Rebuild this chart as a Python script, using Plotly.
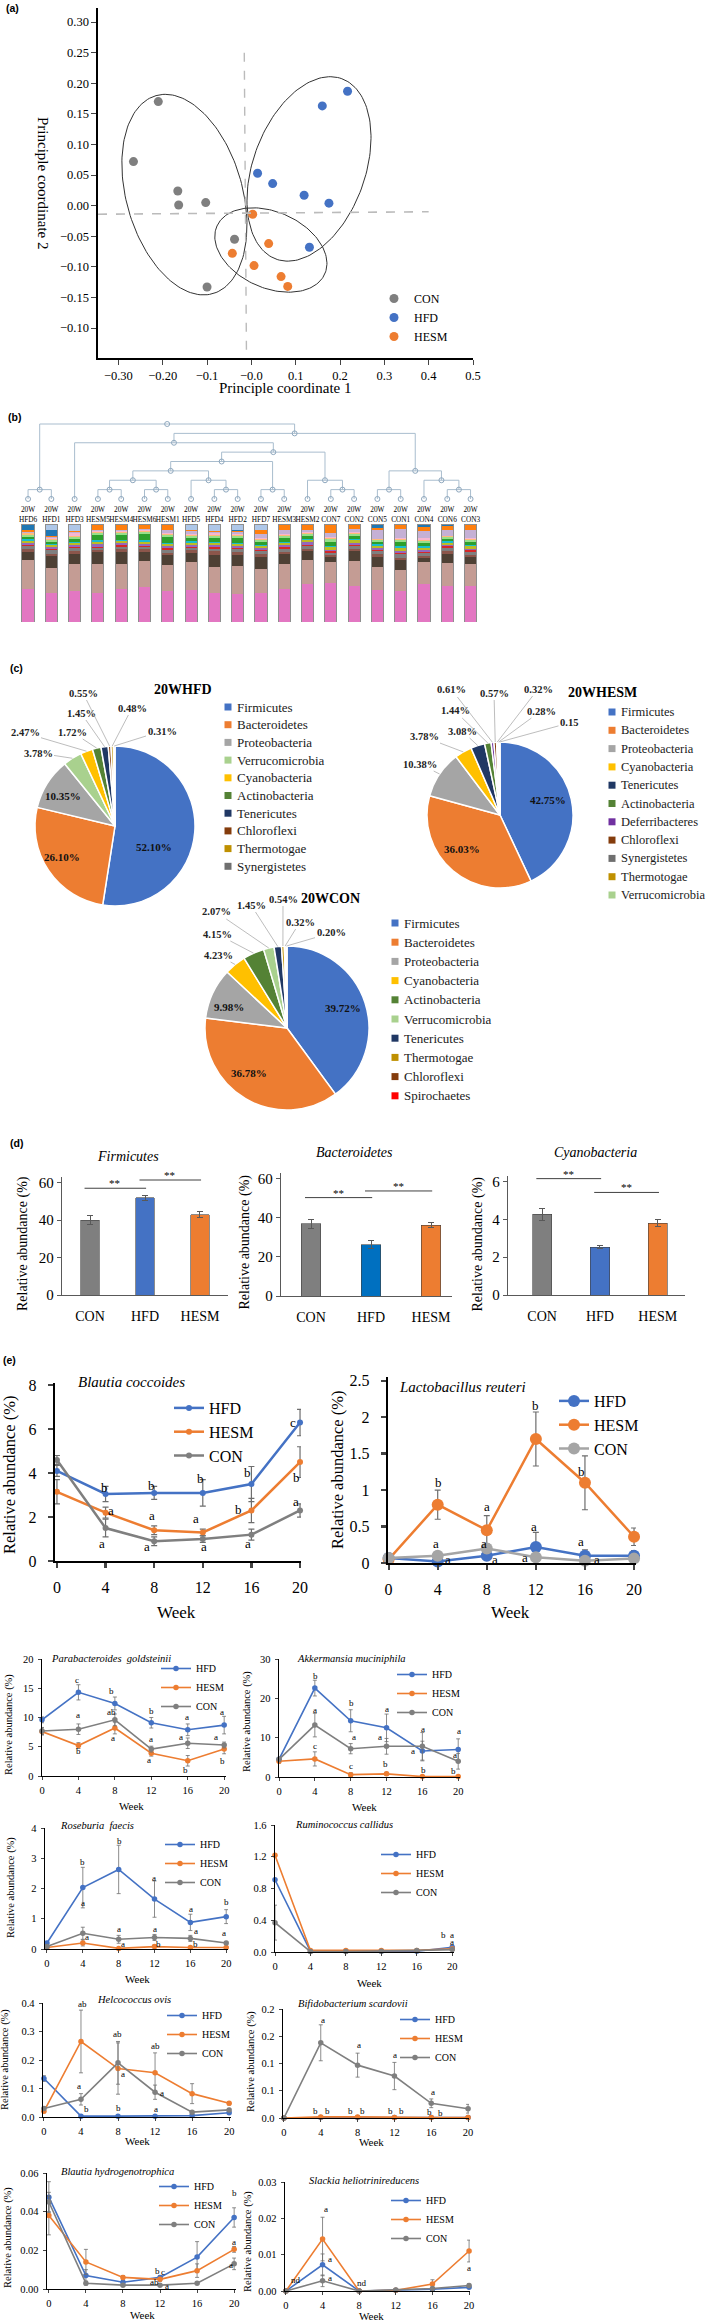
import numpy as np
import plotly.graph_objects as go

W, H = 709, 2321
SERIF = "Liberation Serif"
SANS = "Liberation Sans"
C_CON, C_HFD, C_HESM = "#7F7F7F", "#4472C4", "#ED7D31"

# ---------------- (a) PCoA scores ----------------
con_pc1 = [-0.210, -0.266, -0.166, -0.164, -0.103, -0.038, -0.100]
con_pc2 = [0.170, 0.072, 0.024, 0.001, 0.005, -0.055, -0.133]
hfd_pc1 = [0.217, 0.160, 0.014, 0.048, 0.119, 0.175, 0.131]
hfd_pc2 = [0.187, 0.163, 0.053, 0.036, 0.017, 0.004, -0.068]
hesm_pc1 = [0.003, 0.039, -0.043, 0.006, 0.067, 0.082]
hesm_pc2 = [-0.014, -0.062, -0.078, -0.098, -0.116, -0.132]
pc_xticks = [-0.3, -0.2, -0.1, 0.0, 0.1, 0.2, 0.3, 0.4, 0.5]
pc_xtext = ["\u22120.30", "\u22120.20", "\u22120.1", "\u22120.0", "0.1", "0.2", "0.3", "0.4", "0.5"]
pc_yticks = [0.30, 0.25, 0.20, 0.15, 0.10, 0.05, 0.00, -0.05, -0.10, -0.15, -0.20]
pc_ytext = ["0.30", "0.25", "0.20", "0.15", "0.10", "0.05", "0.00", "\u22120.05", "\u22120.10",
            "\u22120.15", "\u22120.10"]
ell_center_x = [-0.151, 0.130, 0.044]
ell_center_y = [0.018, 0.060, -0.0725]

# ---------------- (b) clustering + genus composition ----------------
sample_names = ["HFD6", "HFD1", "HFD3", "HESM5", "HESM4", "HESM6", "HESM1", "HFD5", "HFD4", "HFD2",
                "HFD7", "HESM3", "HESM2", "CON7", "CON2", "CON5", "CON1", "CON4", "CON6", "CON3"]
merge_pairs = [(0, 1), (3, 4), (5, 6), (8, 9), (10, 11), (13, 14), (15, 16), (18, 19),
               (21, 22), (7, 23), (12, 25), (17, 27), (28, 29), (26, 31), (32, 24),
               (34, 30), (2, 35), (36, 33), (20, 37)]
merge_levels = [1, 1, 1, 1, 1, 1, 1, 1, 2, 2, 2, 2, 3, 3, 4, 5, 6, 7, 8]
# stacked from bottom to top
taxon_01 = [33.6, 29.1, 31.2, 30.1, 33.2, 34.9, 31.2, 32.2, 30.1, 28.1, 30.1, 33.6, 38.0, 39.0, 36.3, 32.2, 32.2, 38.4, 36.3, 36.3]
taxon_02 = [29.1, 25.7, 27.4, 29.5, 26.4, 26.4, 26.0, 28.4, 25.7, 28.4, 24.3, 25.7, 24.7, 21.9, 25.3, 24.3, 20.9, 23.3, 24.0, 22.6]
taxon_03 = [7.3, 12.2, 10.4, 11.4, 11.4, 9.7, 10.8, 9.4, 12.7, 11.5, 11.6, 9.7, 9.3, 5.0, 10.4, 10.0, 10.9, 3.4, 9.2, 7.1]
taxon_04 = [3.0, 2.5, 3.0, 2.0, 3.0, 2.5, 2.0, 3.0, 3.5, 2.5, 3.0, 2.5, 2.0, 1.5, 2.0, 2.5, 2.0, 2.0, 3.0, 2.5]
taxon_05 = [3.0, 3.5, 2.5, 3.0, 3.0, 2.0, 3.0, 2.5, 3.0, 3.0, 3.5, 3.0, 3.0, 2.5, 3.0, 3.0, 3.5, 3.0, 3.0, 3.0]
taxon_06 = [1.5, 1.0, 1.5, 1.0, 2.0, 1.5, 1.5, 1.0, 2.0, 1.5, 1.0, 1.5, 1.0, 1.5, 1.5, 1.0, 1.5, 1.5, 2.0, 1.5]
taxon_07 = [2.0, 3.0, 2.0, 3.0, 2.0, 2.0, 2.5, 2.0, 1.5, 2.0, 2.0, 2.0, 2.5, 1.5, 2.0, 2.5, 2.0, 2.0, 1.5, 2.0]
taxon_08 = [2.0, 1.5, 2.0, 1.5, 1.5, 2.0, 1.5, 2.0, 2.0, 1.5, 2.0, 2.0, 2.5, 3.0, 2.5, 2.0, 3.0, 2.5, 2.0, 2.5]
taxon_09 = [1.5, 1.5, 1.0, 2.0, 1.5, 1.5, 1.5, 1.5, 1.0, 1.5, 1.5, 1.5, 1.0, 1.0, 1.5, 2.0, 1.5, 1.5, 1.5, 1.5]
taxon_10 = [2.0, 2.0, 3.0, 5.0, 5.0, 6.0, 6.0, 3.0, 4.0, 5.0, 3.0, 4.0, 3.0, 4.0, 3.0, 2.0, 5.0, 3.0, 2.0, 3.0]
taxon_11 = [2.0, 2.0, 2.0, 2.5, 2.0, 2.5, 2.0, 2.0, 2.0, 2.0, 2.0, 2.0, 2.0, 2.5, 2.0, 2.0, 2.0, 2.0, 2.0, 2.0]
taxon_12 = [2.0, 1.0, 1.0, 1.0, 1.0, 1.0, 1.0, 1.5, 1.0, 1.0, 1.0, 1.0, 1.0, 1.5, 1.0, 1.0, 1.0, 1.5, 1.0, 1.0]
taxon_13 = [0.5, 0.5, 3.0, 0.5, 0.5, 0.5, 0.5, 0.5, 2.0, 0.5, 0.5, 0.5, 0.5, 0.5, 0.5, 0.5, 0.5, 2.0, 0.5, 0.5]
taxon_14 = [1.0, 1.0, 1.0, 1.0, 1.0, 1.0, 3.0, 3.0, 1.0, 2.0, 4.0, 4.0, 2.0, 4.0, 3.0, 9.0, 9.0, 7.0, 6.0, 8.0]
taxon_15 = [1.5, 1.5, 0.5, 5.0, 5.0, 4.0, 5.0, 1.0, 1.0, 1.0, 4.0, 5.0, 5.0, 8.0, 4.0, 2.0, 4.0, 4.0, 4.0, 5.0]
taxon_16 = [6.0, 6.0, 0.5, 0.5, 0.5, 0.5, 0.5, 0.5, 0.5, 1.5, 0.5, 0.5, 0.5, 0.5, 0.5, 3.0, 0.5, 2.0, 1.0, 0.5]
taxon_17 = [0.5, 6.0, 7.0, 1.0, 1.0, 1.0, 1.0, 6.0, 7.0, 6.0, 6.0, 1.0, 1.0, 1.0, 1.0, 1.0, 1.0, 1.0, 1.0, 1.0]

# ---------------- (c) phylum composition at week 20 ----------------
hfd_phyla = ["Firmicutes", "Bacteroidetes", "Proteobacteria", "Verrucomicrobia", "Cyanobacteria",
             "Actinobacteria", "Tenericutes", "Chloroflexi", "Thermotogae", "Synergistetes"]
hfd_share = [52.10, 26.10, 10.35, 3.78, 2.47, 1.72, 1.45, 0.55, 0.48, 0.31]
hesm_phyla = ["Firmicutes", "Bacteroidetes", "Proteobacteria", "Cyanobacteria", "Tenericutes",
              "Actinobacteria", "Deferribacteres", "Chloroflexi", "Synergistetes", "Thermotogae",
              "Verrucomicrobia"]
hesm_share = [42.75, 36.03, 10.38, 3.78, 3.08, 1.44, 0.61, 0.57, 0.32, 0.28, 0.15]
con_phyla = ["Firmicutes", "Bacteroidetes", "Proteobacteria", "Cyanobacteria", "Actinobacteria",
             "Verrucomicrobia", "Tenericutes", "Thermotogae", "Chloroflexi", "Spirochaetes"]
con_share = [39.72, 36.78, 9.98, 4.23, 4.15, 2.07, 1.45, 0.54, 0.32, 0.20]
hfd_pie_text = [f"{v:.2f}%" for v in hfd_share]
hesm_pie_text = [f"{v:.2f}%" for v in hesm_share[:-1]] + ["0.15"]
con_pie_text = [f"{v:.2f}%" for v in con_share]

# ---------------- (d) phylum bars ----------------
groups = ["CON", "HFD", "HESM"]
firm_mean = [40.0, 51.9, 42.9]
firm_err = [2.2, 1.2, 1.6]
bact_mean = [36.9, 26.3, 36.2]
bact_err = [2.4, 1.9, 1.2]
cyan_mean = [4.27, 2.53, 3.81]
cyan_err = [0.33, 0.09, 0.20]
sig_pairs = [(0, 1), (1, 2)]
firm_sig_y = [57.0, 61.4]
bact_sig_y = [50.4, 53.8]
cyan_sig_y = [6.16, 5.43]

# ---------------- (e) species over time ----------------
weeks = [0, 4, 8, 12, 16, 20]
bc_hfd = [4.1, 3.05, 3.1, 3.1, 3.5, 6.3];        bc_hfd_err = [0.25, 0.35, 0.3, 0.6, 0.8, 0.6]
bc_hesm = [3.15, 2.2, 1.4, 1.3, 2.3, 4.5];       bc_hesm_err = [0.55, 0.25, 0.2, 0.15, 0.55, 0.7]
bc_con = [4.6, 1.5, 0.9, 1.0, 1.2, 2.3];         bc_con_err = [0.2, 0.4, 0.2, 0.15, 0.25, 0.3]
lr_hfd = [0.07, 0.02, 0.10, 0.22, 0.10, 0.10];   lr_hfd_err = [0.02, 0.02, 0.04, 0.2, 0.08, 0.07]
lr_hesm = [0.05, 0.80, 0.45, 1.70, 1.10, 0.36];  lr_hesm_err = [0.02, 0.2, 0.2, 0.37, 0.37, 0.12]
lr_con = [0.07, 0.10, 0.20, 0.08, 0.03, 0.06];   lr_con_err = [0.02, 0.05, 0.06, 0.04, 0.02, 0.03]
pg_hfd = [9.6, 14.3, 12.4, 9.1, 7.9, 8.7];       pg_hfd_err = [0.5, 1.3, 1.1, 0.9, 1.0, 1.5]
pg_hesm = [7.6, 5.2, 8.2, 3.9, 2.6, 4.6];        pg_hesm_err = [0.6, 0.5, 1.0, 0.5, 0.9, 0.8]
pg_con = [7.7, 8.0, 9.6, 4.6, 5.6, 5.3];         pg_con_err = [0.6, 0.9, 1.0, 0.5, 0.9, 0.5]
am_hfd = [4.5, 22.6, 14.3, 12.5, 6.6, 7.0];      am_hfd_err = [0.5, 2.0, 2.8, 3.5, 2.5, 2.7]
am_hesm = [4.0, 4.6, 0.6, 0.8, 0.1, 0.1];        am_hesm_err = [0.5, 1.8, 0.5, 0.4, 0.1, 0.1]
am_con = [4.5, 13.2, 7.2, 7.8, 7.8, 4.0];        am_con_err = [0.6, 3.0, 1.3, 2.0, 3.5, 2.0]
rf_hfd = [0.2, 2.03, 2.63, 1.65, 0.88, 1.07];    rf_hfd_err = [0.05, 0.67, 0.8, 0.6, 0.27, 0.23]
rf_hesm = [0.05, 0.2, 0.02, 0.08, 0.05, 0.05];   rf_hesm_err = [0.02, 0.1, 0.02, 0.05, 0.02, 0.02]
rf_con = [0.08, 0.52, 0.32, 0.38, 0.35, 0.2];    rf_con_err = [0.03, 0.2, 0.13, 0.1, 0.1, 0.05]
rc_hfd = [0.91, 0.01, 0.01, 0.01, 0.01, 0.06];   rc_hfd_err = [0.0, 0.005, 0.005, 0.005, 0.005, 0.02]
rc_hesm = [1.22, 0.02, 0.02, 0.02, 0.02, 0.04];  rc_hesm_err = [0.0, 0.005, 0.005, 0.005, 0.005, 0.01]
rc_con = [0.37, 0.005, 0.005, 0.01, 0.02, 0.03]; rc_con_err = [0.22, 0.003, 0.003, 0.005, 0.005, 0.01]
ho_hfd = [0.135, 0.003, 0.003, 0.003, 0.005, 0.015]; ho_hfd_err = [0.01, 0.002, 0.002, 0.002, 0.002, 0.004]
ho_hesm = [0.02, 0.265, 0.17, 0.155, 0.082, 0.048];  ho_hesm_err = [0.005, 0.11, 0.09, 0.07, 0.035, 0.006]
ho_con = [0.03, 0.062, 0.19, 0.087, 0.017, 0.025];   ho_con_err = [0.005, 0.02, 0.075, 0.025, 0.005, 0.005]
bs_hfd = [0.0, 0.001, 0.001, 0.001, 0.001, 0.001];   bs_hfd_err = [0, 0, 0, 0, 0, 0]
bs_hesm = [0.0, 0.002, 0.002, 0.001, 0.001, 0.001];  bs_hesm_err = [0, 0, 0, 0, 0, 0]
bs_con = [0.0, 0.138, 0.097, 0.077, 0.027, 0.017];   bs_con_err = [0.0, 0.033, 0.022, 0.025, 0.008, 0.008]
bh_hfd = [0.0475, 0.007, 0.0035, 0.006, 0.0165, 0.037];  bh_hfd_err = [0.008, 0.003, 0.001, 0.001, 0.008, 0.005]
bh_hesm = [0.038, 0.014, 0.006, 0.005, 0.0095, 0.0205];  bh_hesm_err = [0.01, 0.0065, 0.001, 0.001, 0.0035, 0.0015]
bh_con = [0.045, 0.003, 0.002, 0.002, 0.003, 0.013];     bh_con_err = [0.005, 0.001, 0.0005, 0.0005, 0.0005, 0.003]
sh_hfd = [0.0, 0.0072, 0.0, 0.0002, 0.0005, 0.001];  sh_hfd_err = [0, 0.003, 0, 0.0001, 0.0002, 0.0003]
sh_hesm = [0.0, 0.0143, 0.0, 0.0002, 0.0019, 0.011]; sh_hesm_err = [0, 0.006, 0, 0.0002, 0.0012, 0.003]
sh_con = [0.0, 0.0028, 0.0, 0.0003, 0.0007, 0.0015]; sh_con_err = [0, 0.0016, 0, 0.0002, 0.0003, 0.0005]

# significance letters: (week position, height, letter)
bc_letters = [(3.95, 3.36, "b"), (4.45, 2.3, "a"), (3.7, 0.8, "a"), (7.8, 3.45, "b"), (7.8, 2.05, "a"),
              (7.4, 0.64, "a"), (11.8, 3.77, "b"), (11.4, 1.95, "a"), (12.1, 0.68, "a"), (15.7, 4.05, "b"),
              (14.9, 2.36, "b"), (15.7, 0.8, "a"), (19.4, 6.3, "c"), (19.7, 3.8, "b"), (19.7, 2.7, "a")]
lr_letters = [(4.05, 1.1, "b"), (3.9, 0.27, "a"), (4.8, 0.05, "a"), (8.0, 0.77, "a"), (7.8, 0.27, "a"),
              (8.7, 0.05, "a"), (12.0, 2.16, "b"), (11.85, 0.5, "a"), (11.1, 0.07, "a"), (15.7, 1.26, "b"),
              (15.7, 0.3, "a"), (17.0, 0.05, "a")]
pg_letters = [(3.8, 16.4, "c"), (4.0, 10.4, "a"), (4.0, 4.3, "b"), (7.6, 14.6, "b"), (7.6, 10.9, "ab"),
              (7.8, 6.5, "a"), (12.0, 11.1, "b"), (12.0, 6.3, "a"), (11.7, 2.7, "a"), (15.9, 10.1, "a"),
              (15.3, 6.7, "a"), (15.8, 1.0, "b"), (19.8, 10.9, "a"), (19.1, 6.7, "a"), (19.8, 2.6, "b")]
am_letters = [(4.05, 25.8, "b"), (4.05, 17.0, "a"), (4.05, 7.9, "c"), (8.1, 18.9, "b"), (8.4, 10.2, "a"),
              (8.0, 2.8, "c"), (12.05, 17.3, "a"), (11.3, 10.2, "a"), (11.9, 3.3, "b"), (16.1, 12.2, "a"),
              (14.9, 6.6, "a"), (16.1, 1.8, "b"), (20.1, 11.8, "a"), (19.6, 5.6, "a"), (19.5, 1.4, "b")]
rf_letters = [(4.0, 2.87, "b"), (4.0, 1.51, "a"), (4.45, 0.39, "a"), (8.04, 3.58, "b"), (8.04, 0.66, "a"),
              (8.5, 0.17, "a"), (11.9, 2.34, "a"), (12.0, 0.66, "a"), (12.5, 0.17, "b"), (16.1, 1.32, "a"),
              (16.6, 0.6, "a"), (16.6, 0.17, "b"), (20.0, 1.56, "b"), (19.7, 0.54, "a"), (20.6, 0.15, "a")]
rc_letters = [(19.0, 0.22, "b"), (19.95, 0.22, "a"), (19.95, 0.12, "a")]
ho_letters = [(4.15, 0.395, "ab"), (3.8, 0.109, "a"), (4.6, 0.027, "b"), (7.96, 0.29, "ab"),
              (8.55, 0.15, "a"), (8.1, 0.033, "b"), (12.0, 0.25, "ab"), (12.7, 0.083, "a"), (12.1, 0.028, "a")]
bs_letters = [(4.2, 0.179, "a"), (8.2, 0.134, "a"), (12.1, 0.116, "a"), (16.2, 0.047, "a"),
              (3.4, 0.013, "b"), (4.7, 0.013, "b"), (7.2, 0.013, "b"), (8.5, 0.013, "b"),
              (11.6, 0.013, "b"), (12.8, 0.013, "b"), (15.8, 0.011, "b"), (17.0, 0.009, "b")]
bh_letters = [(11.75, 0.0095, "b"), (12.3, 0.0088, "c"), (11.4, 0.0035, "ab"), (12.7, 0.0018, "a"),
              (20.0, 0.0495, "b"), (20.0, 0.0245, "a"), (19.65, 0.0124, "a")]
sh_letters = [(1.1, 0.003, "nd"), (4.4, 0.0225, "a"), (4.8, 0.0088, "a"), (4.8, 0.0035, "a"),
              (8.35, 0.0023, "nd"), (20.2, 0.0159, "b"), (20.0, 0.0062, "a")]

# ================= figure assembly =================
layout = dict(width=W, height=H, margin=dict(l=0, r=0, t=0, b=0, pad=0),
              paper_bgcolor="white", plot_bgcolor="rgba(0,0,0,0)",
              font=dict(family=SERIF, color="black", size=11),
              barmode="stack", hovermode=False)
annotations, shapes, traces = [], [], []
n_axes = [0]


def tfont(size):
    return dict(family=SERIF, size=size, color="black")


def add_axes(xpx, ypx, xr, yr, xkw=None, ykw=None):
    n_axes[0] += 1
    s = "" if n_axes[0] == 1 else str(n_axes[0])
    common = dict(showgrid=False, zeroline=False, fixedrange=True, automargin=False)
    xa = dict(common, domain=[xpx[0] / W, xpx[1] / W], range=xr, anchor="y" + s)
    ya = dict(common, domain=[1 - ypx[1] / H, 1 - ypx[0] / H], range=yr, anchor="x" + s)
    xa.update(xkw or {})
    ya.update(ykw or {})
    layout["xaxis" + s] = xa
    layout["yaxis" + s] = ya
    return "x" + s, "y" + s


def text(x, y, s, size, family=SERIF, color="black", **kw):
    a = dict(x=x / W, y=1 - y / H, xref="paper", yref="paper", text=s, showarrow=False,
             xanchor="center", yanchor="middle", font=dict(family=family, size=size, color=color))
    a.update(kw)
    annotations.append(a)


def add_legend(name, left, top, size):
    layout[name] = dict(x=left / W, y=1 - top / H, xanchor="left", yanchor="top",
                        bgcolor="rgba(0,0,0,0)", borderwidth=0, itemwidth=30, traceorder="normal",
                        font=dict(family=SERIF, size=size, color="black"), tracegroupgap=0)


# ---- panel labels ----
for lab, x, y in [("(a)", 12, 8), ("(b)", 14, 417), ("(c)", 16, 668), ("(d)", 16, 1143), ("(e)", 9, 1360)]:
    text(x, y, "<b>" + lab + "</b>", 10.5, family=SANS)

# ---- (a) ----
a_xpx, a_ypx = (98, 473), (8, 358)
a_xr, a_yr = [-0.346, 0.5], [-0.249, 0.323]
axa = add_axes(a_xpx, a_ypx, a_xr, a_yr,
               dict(showline=True, linecolor="black", linewidth=1.6, ticks="outside", ticklen=5,
                    tickvals=pc_xticks, ticktext=pc_xtext, tickfont=tfont(12.5)),
               dict(showline=True, linecolor="black", linewidth=1.6, ticks="outside", ticklen=5,
                    tickvals=pc_yticks, ticktext=pc_ytext, tickfont=tfont(12.5)))
sx = (a_xr[1] - a_xr[0]) / (a_xpx[1] - a_xpx[0])
sy = (a_yr[1] - a_yr[0]) / (a_ypx[1] - a_ypx[0])
ell_geom = [(103, 58, -16), (96, 56, 20), (59, 38, -66)]  # semi-axes px, tilt from vertical
t = np.linspace(0, 2 * np.pi, 160)
for cx, cy, (ea, eb, tilt) in zip(ell_center_x, ell_center_y, ell_geom):
    al = np.radians(tilt)
    dx = ea * np.cos(t) * np.sin(al) + eb * np.sin(t) * np.cos(al)
    dy = ea * np.cos(t) * np.cos(al) - eb * np.sin(t) * np.sin(al)
    traces.append(go.Scatter(x=cx + dx * sx, y=cy + dy * sy, mode="lines", showlegend=False,
                             line=dict(color="#333333", width=1), xaxis=axa[0], yaxis=axa[1]))
shapes.append(dict(type="line", xref=axa[0], yref=axa[1], x0=-0.016, y0=0.25, x1=-0.011, y1=a_yr[0],
                   line=dict(color="#BBBBBB", width=1.4, dash="dash")))
shapes.append(dict(type="line", xref=axa[0], yref=axa[1], x0=a_xr[0], y0=-0.014, x1=0.4, y1=-0.010,
                   line=dict(color="#BBBBBB", width=1.6, dash="dash")))
for nm, xs, ys, col in [("CON", con_pc1, con_pc2, C_CON), ("HFD", hfd_pc1, hfd_pc2, C_HFD),
                        ("HESM", hesm_pc1, hesm_pc2, C_HESM)]:
    traces.append(go.Scatter(x=xs, y=ys, mode="markers", name=nm, legend="legend",
                             marker=dict(size=9, color=col), xaxis=axa[0], yaxis=axa[1]))
add_legend("legend", 374, 284, 12)
text(285, 388, "Principle coordinate 1", 15)
text(43, 183, "Principle coordinate 2", 15, textangle=90)

# ---- (b) dendrogram ----
b_xpx = (16.4, 482.2)
axd = add_axes(b_xpx, (421.2, 501.8), [-0.5, 19.5], [-0.3, 8.3],
               dict(visible=False), dict(visible=False))
node_x = {i: float(i) for i in range(len(sample_names))}
node_h = {i: 0.0 for i in range(len(sample_names))}
lx, ly = [], []
nid = len(sample_names)
for (l, r), h in zip(merge_pairs, merge_levels):
    lx += [node_x[l], node_x[l], node_x[r], node_x[r], None]
    ly += [node_h[l], h, h, node_h[r], None]
    node_x[nid] = (node_x[l] + node_x[r]) / 2
    node_h[nid] = h
    nid += 1
traces.append(go.Scatter(x=lx, y=ly, mode="lines", line=dict(color="#A9BDCE", width=1),
                         showlegend=False, xaxis=axd[0], yaxis=axd[1]))
traces.append(go.Scatter(x=list(node_x.values()), y=list(node_h.values()), mode="markers",
                         marker=dict(symbol="circle-open", size=5, color="#8FA8BE", line=dict(width=1)),
                         showlegend=False, xaxis=axd[0], yaxis=axd[1], cliponaxis=False))

# ---- (b) stacked bars ----
axb = add_axes(b_xpx, (524, 622), [-0.5, 19.5], [0, 100],
               dict(side="top", tickvals=list(range(20)),
                    ticktext=["20W<br>" + s for s in sample_names], tickangle=0,
                    tickfont=tfont(7.3), ticks=""),
               dict(visible=False))
taxa = [taxon_01, taxon_02, taxon_03, taxon_04, taxon_05, taxon_06, taxon_07, taxon_08, taxon_09,
        taxon_10, taxon_11, taxon_12, taxon_13, taxon_14, taxon_15, taxon_16, taxon_17]
taxa_colors = ["#E377C2", "#C49C94", "#4E4034", "#8C564B", "#7F7F7F", "#D62728", "#9467BD", "#BCBD22",
               "#17BECF", "#2CA02C", "#98DF8A", "#FFBB78", "#F7B6D2", "#C5B0D5", "#FF7F0E", "#1F77B4",
               "#AEC7E8"]
totals = np.sum(np.array(taxa), axis=0)
for vals, col in zip(taxa, taxa_colors):
    traces.append(go.Bar(x=list(range(20)), y=np.array(vals) / totals * 100, width=0.52,
                         marker=dict(color=col, line=dict(width=0)), showlegend=False,
                         xaxis=axb[0], yaxis=axb[1]))
n_axes[0] += 1
ov = str(n_axes[0])
layout["yaxis" + ov] = dict(overlaying=axb[1], anchor=axb[0], range=[0, 100], visible=False,
                            domain=layout["yaxis" + axb[1][1:]]["domain"], fixedrange=True)
traces.append(go.Bar(x=list(range(20)), y=totals / totals * 100, width=0.52,
                     marker=dict(color="rgba(0,0,0,0)", line=dict(width=1, color="#8E8E8E")),
                     showlegend=False, xaxis=axb[0], yaxis="y" + ov))

# ---- (c) pies ----
phylum_colors = {"Firmicutes": "#4472C4", "Bacteroidetes": "#ED7D31", "Proteobacteria": "#A5A5A5",
                 "Cyanobacteria": "#FFC000", "Verrucomicrobia": "#A9D18E", "Actinobacteria": "#548235",
                 "Tenericutes": "#203864", "Chloroflexi": "#843C0C", "Thermotogae": "#BF9000",
                 "Synergistetes": "#6F6F6F", "Deferribacteres": "#7030A0", "Spirochaetes": "#FF0000"}
pies = [
    dict(labels=hfd_phyla, vals=hfd_share, txt=hfd_pie_text, c=(115, 826), r=80,
         title="20WHFD", tpos=(183, 689), leg=(228, 707, 17.7, 13),
         inner={0: (154, 847), 1: (62, 857), 2: (63, 796)},
         out={3: (38, 753), 4: (25, 733), 5: (72, 732), 6: (81, 713), 7: (83, 693), 8: (132, 708),
              9: (162, 731)}),
    dict(labels=hesm_phyla, vals=hesm_share, txt=hesm_pie_text, c=(500, 815), r=73,
         title="20WHESM", tpos=(602, 692), leg=(612, 712, 18.3, 12.5),
         inner={0: (548, 800), 1: (462, 849)},
         out={2: (420, 764), 3: (424, 737), 4: (462, 731), 5: (455, 711), 6: (452, 690), 7: (494, 693),
              8: (538, 689), 9: (541, 711), 10: (569, 723)}),
    dict(labels=con_phyla, vals=con_share, txt=con_pie_text, c=(287, 1028), r=82,
         title="20WCON", tpos=(330, 898), leg=(395, 923, 19.2, 13),
         inner={0: (343, 1008), 1: (249, 1073), 2: (229, 1007)},
         out={3: (218, 955), 4: (217, 934), 5: (216, 912), 6: (251, 905), 7: (283, 899), 8: (300, 922),
              9: (331, 933)}),
]
for p in pies:
    (cx, cy), r = p["c"], p["r"]
    traces.append(go.Pie(labels=p["labels"], values=p["vals"], textinfo="none",
                         sort=False, direction="clockwise", rotation=0,
                         marker=dict(colors=[phylum_colors[l] for l in p["labels"]],
                                     line=dict(color="white", width=1.5)),
                         domain=dict(x=[(cx - r) / W, (cx + r) / W], y=[1 - (cy + r) / H, 1 - (cy - r) / H]),
                         showlegend=False))
    text(p["tpos"][0], p["tpos"][1], "<b>" + p["title"] + "</b>", 14)
    for i, (ix, iy) in p["inner"].items():
        text(ix, iy, "<b>" + p["txt"][i] + "</b>", 11, color="#111111")
    tot = sum(p["vals"])
    cum = np.cumsum([0] + list(p["vals"]))
    for i, (lxp, lyp) in p["out"].items():
        th = 2 * np.pi * (cum[i] + p["vals"][i] / 2) / tot
        ex, ey = cx + r * np.sin(th), cy - r * np.cos(th)
        annotations.append(dict(x=ex / W, y=1 - ey / H, xref="paper", yref="paper",
                                text="<b>" + p["txt"][i] + "</b>", showarrow=True, arrowhead=0,
                                arrowwidth=0.7, arrowcolor="#A0A0A0", standoff=0,
                                ax=lxp - ex, ay=lyp - ey,
                                font=dict(family=SERIF, size=10.5, color="#222222")))
    # legend key: square swatch + phylum name
    kx, ky, kdy, kfs = p["leg"]
    for i, lab in enumerate(p["labels"]):
        yy = ky + i * kdy
        shapes.append(dict(type="rect", xref="paper", yref="paper", x0=(kx - 3.5) / W, x1=(kx + 3.5) / W,
                           y0=1 - (yy + 3.5) / H, y1=1 - (yy - 3.5) / H,
                           fillcolor=phylum_colors[lab], line=dict(width=0)))
        text(kx + 7, yy, lab, kfs, color="#1A1A1A", xanchor="left")

# ---- (d) bars ----
dspecs = [
    dict(mean=firm_mean, err=firm_err, sig=firm_sig_y, title="Firmicutes", xpx=(62, 228), ypx=(1177, 1295),
         xr=[-0.51, 2.51], yr=[0, 63], ticks=[0, 20, 40, 60], tpos=(128, 1156), ytx=23,
         cols=[C_CON, "#4472C4", C_HESM]),
    dict(mean=bact_mean, err=bact_err, sig=bact_sig_y, title="Bacteroidetes", xpx=(281, 452),
         ypx=(1173, 1296), xr=[-0.5, 2.35], yr=[0, 63], ticks=[0, 20, 40, 60], tpos=(354, 1153), ytx=244,
         cols=[C_CON, "#0070C0", C_HESM]),
    dict(mean=cyan_mean, err=cyan_err, sig=cyan_sig_y, title="Cyanobacteria", xpx=(508, 685),
         ypx=(1176, 1295), xr=[-0.59, 2.47], yr=[0, 6.3], ticks=[0, 2, 4, 6], tpos=(595, 1153), ytx=477,
         cols=[C_CON, "#4472C4", C_HESM]),
]
for d in dspecs:
    ax = add_axes(d["xpx"], d["ypx"], d["xr"], d["yr"],
                  dict(showline=True, linecolor="#595959", linewidth=1.2, tickvals=[0, 1, 2], ticktext=groups,
                       ticks="", tickfont=tfont(14), ticklabelstandoff=8),
                  dict(showline=True, linecolor="#595959", linewidth=1.2, ticks="outside", ticklen=4,
                       tickcolor="#595959", tickvals=d["ticks"], tickfont=tfont(15)))
    traces.append(go.Bar(x=[0, 1, 2], y=d["mean"], width=0.33, showlegend=False,
                         marker=dict(color=d["cols"], line=dict(color="#404040", width=0.6)),
                         error_y=dict(type="data", array=d["err"], color="#595959", thickness=1, width=3),
                         xaxis=ax[0], yaxis=ax[1]))
    for (i, j), hy in zip(sig_pairs, d["sig"]):
        shapes.append(dict(type="line", xref=ax[0], yref=ax[1], x0=i - 0.1, x1=j + 0.02, y0=hy, y1=hy,
                           line=dict(color="#404040", width=1)))
        annotations.append(dict(x=(i + j) / 2 - 0.05, y=hy, xref=ax[0], yref=ax[1], text="**",
                                showarrow=False, xanchor="center", yanchor="bottom", yshift=-3,
                                font=dict(family=SERIF, size=11, color="black")))
    text(d["tpos"][0], d["tpos"][1], "<i>" + d["title"] + "</i>", 14)
    yc = (d["ypx"][0] + d["ypx"][1]) / 2 + 8
    text(d["ytx"], yc, "Relative abundance (%)", 14, textangle=-90)

# ---- (e) time courses ----
especs = [
    dict(t="Blautia coccoides", ser=[(bc_hfd, bc_hfd_err), (bc_hesm, bc_hesm_err), (bc_con, bc_con_err)],
         let=bc_letters, xpx=(55, 301), ypx=(1383, 1561), xr=[-0.16, 20.08], yr=[0, 8.1],
         yt=dict(tickvals=[0, 2, 4, 6, 8]), big=True, ms=6, tpos=(131, 1382), lg=("legend5", 169, 1391),
         yttl=(9, 1475), wk=(176, 1612), con_col="#7F7F7F"),
    dict(t="Lactobacillus reuteri", ser=[(lr_hfd, lr_hfd_err), (lr_hesm, lr_hesm_err), (lr_con, lr_con_err)],
         let=lr_letters, xpx=(388, 636), ypx=(1377, 1563), xr=[-0.05, 20.16], yr=[0, 2.55],
         yt=dict(tickvals=[0, 0.5, 1, 1.5, 2, 2.5]), big=True, ms=12, tpos=(462, 1387),
         lg=("legend6", 554, 1384), yttl=(337, 1470), wk=(510, 1612), con_col="#A5A5A5"),
    dict(t="Parabacteroides  goldsteinii", ser=[(pg_hfd, pg_hfd_err), (pg_hesm, pg_hesm_err), (pg_con, pg_con_err)],
         let=pg_letters, xpx=(42, 226), ypx=(1659, 1776), xr=[0, 20.2], yr=[0, 20],
         yt=dict(tickvals=[0, 5, 10, 15, 20]), tpos=(111, 1658), lg=("legend7", 156, 1654),
         yttl=(9, 1725), wk=(131, 1806)),
    dict(t="Akkermansia muciniphila", ser=[(am_hfd, am_hfd_err), (am_hesm, am_hesm_err), (am_con, am_con_err)],
         let=am_letters, xpx=(279, 460), ypx=(1659, 1777), xr=[0, 20.2], yr=[0, 30],
         yt=dict(tickvals=[0, 10, 20, 30]), tpos=(351, 1658), lg=("legend8", 392, 1660),
         yttl=(247, 1722), wk=(364, 1807)),
    dict(t="Roseburia  faecis", ser=[(rf_hfd, rf_hfd_err), (rf_hesm, rf_hesm_err), (rf_con, rf_con_err)],
         let=rf_letters, xpx=(45, 228), ypx=(1828, 1949), xr=[-0.22, 20.2], yr=[0, 4],
         yt=dict(tickvals=[0, 1, 2, 3, 4]), tpos=(97, 1825), lg=("legend9", 160, 1830),
         yttl=(11, 1888), wk=(137, 1979)),
    dict(t="Ruminococcus callidus", ser=[(rc_hfd, rc_hfd_err), (rc_hesm, rc_hesm_err), (rc_con, rc_con_err)],
         let=rc_letters, xpx=(275, 454), ypx=(1825, 1952), xr=[0, 20.2], yr=[0, 1.6],
         yt=dict(tickvals=[0, 0.4, 0.8, 1.2, 1.6], tickformat=".1f"), tpos=(344, 1824),
         lg=("legend10", 376, 1840), yttl=None, wk=(369, 1983)),
    dict(t="Helcococcus ovis", ser=[(ho_hfd, ho_hfd_err), (ho_hesm, ho_hesm_err), (ho_con, ho_con_err)],
         let=ho_letters, xpx=(43, 231), ypx=(2003, 2117), xr=[-0.1, 20.2], yr=[0, 0.4],
         yt=dict(tickvals=[0, 0.1, 0.2, 0.3, 0.4], tickformat=".1f"), tpos=(134, 1999),
         lg=("legend11", 162, 2001), yttl=(5, 2060), wk=(137, 2141)),
    dict(t="Bifidobacterium scardovii", ser=[(bs_hfd, bs_hfd_err), (bs_hesm, bs_hesm_err), (bs_con, bs_con_err)],
         let=bs_letters, xpx=(283, 469), ypx=(2009, 2118), xr=[-0.1, 20.1], yr=[0, 0.2],
         yt=dict(tickvals=[0, 0.05, 0.1, 0.15, 0.2], ticktext=["0.0", "0.1", "0.1", "0.2", "0.2"]),
         tpos=(353, 2003), lg=("legend12", 395, 2005), yttl=(251, 2062), wk=(371, 2142)),
    dict(t="Blautia hydrogenotrophica", ser=[(bh_hfd, bh_hfd_err), (bh_hesm, bh_hesm_err), (bh_con, bh_con_err)],
         let=bh_letters, xpx=(47, 236), ypx=(2173, 2289), xr=[-0.2, 20.2], yr=[0, 0.06],
         yt=dict(tickvals=[0, 0.02, 0.04, 0.06], tickformat=".2f"), tpos=(117, 2171),
         lg=("legend13", 154, 2172), yttl=(8, 2238), wk=(142, 2315)),
    dict(t="Slackia heliotrinireducens", ser=[(sh_hfd, sh_hfd_err), (sh_hesm, sh_hesm_err), (sh_con, sh_con_err)],
         let=sh_letters, xpx=(285, 470), ypx=(2182, 2291), xr=[-0.1, 20.1], yr=[0, 0.03],
         yt=dict(tickvals=[0, 0.01, 0.02, 0.03], tickformat=".2f"), tpos=(364, 2180),
         lg=("legend14", 386, 2186), yttl=(248, 2242), wk=(371, 2316)),
]
for e in especs:
    big = e.get("big", False)
    lw_ax = 2.2 if big else 1.3
    tf = 16 if big else 10.5
    yk = dict(showline=True, linecolor="black", linewidth=lw_ax, ticks="outside", ticklen=5 if big else 3,
              tickwidth=lw_ax if big else 1, tickfont=tfont(tf), ticklabelstandoff=8 if big else 2)
    yk.update(e["yt"])
    ax = add_axes(e["xpx"], e["ypx"], e["xr"], e["yr"],
                  dict(showline=True, linecolor="black", linewidth=lw_ax, ticks="outside",
                       ticklen=5 if big else 3, tickwidth=lw_ax if big else 1, tickvals=weeks,
                       tickfont=tfont(tf), ticklabelstandoff=6 if big else 1),
                  yk)
    lgname, lgx, lgy = e["lg"]
    add_legend(lgname, lgx, lgy, 16 if big else 10)
    cols = [C_HFD, C_HESM, e.get("con_col", C_CON)]
    for nm, (vals, errs), col in zip(["HFD", "HESM", "CON"], e["ser"], cols):
        traces.append(go.Scatter(x=weeks, y=vals, mode="lines+markers", name=nm, legend=lgname,
                                 line=dict(color=col, width=2.5 if big else 1.6),
                                 marker=dict(color=col, size=e.get("ms", 5.5)),
                                 error_y=dict(type="data", array=errs, color="#6E6E6E",
                                              thickness=1.2 if big else 0.8, width=3 if big else 2),
                                 cliponaxis=False, xaxis=ax[0], yaxis=ax[1]))
    for wx, wy, s in e["let"]:
        annotations.append(dict(x=wx, y=wy, xref=ax[0], yref=ax[1], text=s, showarrow=False,
                                xanchor="center", yanchor="middle",
                                font=dict(family=SERIF, size=13 if big else 9, color="black")))
    text(e["tpos"][0], e["tpos"][1], "<i>" + e["t"] + "</i>", 15 if big else 10.5)
    if e["yttl"]:
        text(e["yttl"][0], e["yttl"][1], "Relative abundance (%)", 16.5 if big else 10.5, textangle=-90)
    text(e["wk"][0], e["wk"][1], "Week", 17 if big else 11)

layout["annotations"] = annotations
layout["shapes"] = shapes
fig = go.Figure(data=traces, layout=layout)
fig.write_html("out.html", config={"displayModeBar": False, "staticPlot": True},
               post_script="document.body.style.margin='0px';")
